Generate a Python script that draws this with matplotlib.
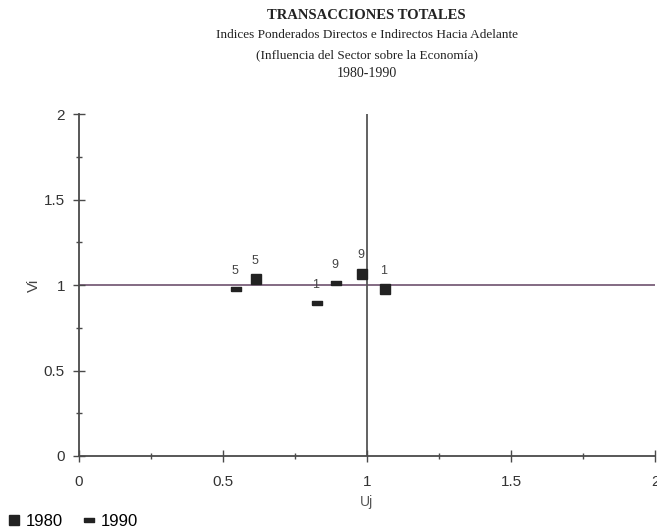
import matplotlib.pyplot as plt
from matplotlib.ticker import MultipleLocator

# Data
sec_1980 = ['5', '9', '1']
u_1980 = [0.615, 0.984, 1.062]
v_1980 = [1.035, 1.068, 0.977]

sec_1990 = ['5', '1', '9']
u_1990 = [0.546, 0.828, 0.892]
v_1990 = [0.975, 0.893, 1.010]

title_lines = ['TRANSACCIONES TOTALES',
               'Indices Ponderados Directos e Indirectos Hacia Adelante',
               '(Influencia del Sector sobre la Economía)',
               '1980-1990']

fig = plt.figure(figsize=(6.57, 5.29), dpi=100)
ax = fig.add_axes([0.120, 0.138, 0.877, 0.646])

axc = '#4a4a4a'
# reference lines
ax.axhline(1, color='#7a5f7a', lw=1.3, zorder=1)
ax.axvline(1, color='#555555', lw=1.3, zorder=1)

rect = [(-1, -0.55), (1, -0.55), (1, 0.55), (-1, 0.55), (-1, -0.55)]
ax.plot(u_1980, v_1980, ls='none', marker='s', ms=6.5, color='#222222', label='1980', zorder=3)
ax.plot(u_1990, v_1990, ls='none', marker=rect, ms=6.5, color='#222222', label='1990', zorder=3)

for s, u, v in zip(sec_1980 + sec_1990, u_1980 + u_1990, v_1980 + v_1990):
    ax.annotate(s, (u, v), xytext=(-1, 9), textcoords='offset points',
                ha='center', va='bottom', fontsize=9, color='#444444',
                family='Liberation Sans')

ax.set_xlim(0, 2)
ax.set_ylim(0, 2)
ax.xaxis.set_minor_locator(MultipleLocator(0.25))
ax.yaxis.set_minor_locator(MultipleLocator(0.25))
ax.set_xticks([0, 0.5, 1, 1.5, 2])
ax.set_xticklabels(['0', '0.5', '1', '1.5', '2'])
ax.set_yticks([0, 0.5, 1, 1.5, 2])
ax.set_yticklabels(['0', '0.5', '1', '1.5', '2'])

for sp in ['top', 'right']:
    ax.spines[sp].set_visible(False)
for sp in ['left', 'bottom']:
    ax.spines[sp].set_color(axc)
    ax.spines[sp].set_linewidth(1.3)
ax.tick_params(which='major', direction='inout', length=8, width=1, color=axc,
               labelsize=11, labelcolor='#333333', pad=10)
ax.tick_params(which='minor', direction='inout', length=5, width=1, color=axc)
for lab in ax.get_xticklabels() + ax.get_yticklabels():
    lab.set_family('Liberation Sans')
ax.tick_params(axis='y', pad=6)

ax.set_xlabel('Uj', fontsize=10, color='#555555', family='Liberation Sans', labelpad=4)
ax.set_ylabel('Vi', fontsize=11, color='#444444', family='Liberation Sans', labelpad=2)

# titles
ys = [0.970, 0.933, 0.896, 0.862]
sizes = [10.5, 9.5, 9.5, 10]
for i, (t, y, s) in enumerate(zip(title_lines, ys, sizes)):
    fig.text(0.558, y, t, ha='center', va='center', fontsize=s,
             family='Liberation Serif', weight='bold' if i == 0 else 'normal',
             color='#222222')

fig.legend(loc='lower left', bbox_to_anchor=(-0.012, -0.028), ncol=2, frameon=False,
           handlelength=0.8, handletextpad=0.3, columnspacing=1.2,
           prop={'family': 'Liberation Sans', 'size': 12})

fig.savefig('out.png', dpi=100)
